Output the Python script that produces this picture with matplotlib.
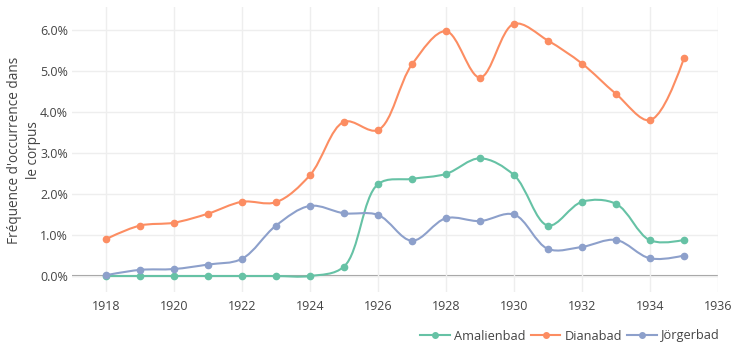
import matplotlib
matplotlib.use("Agg")
import matplotlib.pyplot as plt
import numpy as np
from matplotlib.path import Path
from matplotlib.patches import PathPatch
from matplotlib.lines import Line2D
from matplotlib.ticker import FuncFormatter, MultipleLocator

years = list(range(1918, 1936))
amalienbad = [0.00, 0.00, 0.00, 0.00, 0.00, 0.00, 0.00, 0.23, 2.24, 2.37,
              2.49, 2.87, 2.46, 1.23, 1.81, 1.76, 0.87, 0.88]
dianabad = [0.90, 1.23, 1.30, 1.52, 1.81, 1.80, 2.46, 3.76, 3.56, 5.16,
            5.97, 4.84, 6.15, 5.74, 5.18, 4.44, 3.80, 5.31]
joergerbad = [0.02, 0.15, 0.17, 0.28, 0.42, 1.23, 1.71, 1.53, 1.49, 0.86,
              1.41, 1.34, 1.50, 0.66, 0.71, 0.88, 0.43, 0.50]
series_names = ["Amalienbad", "Dianabad", "Jörgerbad"]
series_values = [amalienbad, dianabad, joergerbad]
colors = ["#66c2a5", "#fc8d62", "#8da0cb"]
x_ticks = list(range(1918, 1937, 2))
y_label = "Fréquence d'occurrence dans\nle corpus"

FONT = ["Open Sans", "DejaVu Sans"]
TEXT = "#444444"
plt.rcParams["font.family"] = FONT

W, H = 738, 347
fig = plt.figure(figsize=(W / 100, H / 100), dpi=100)
L, R, T, B = 72, 718, 7, 292
ax = fig.add_axes([L / W, (H - B) / H, (R - L) / W, (B - T) / H])
ax.set_xlim(1917, 1936)
ax.set_ylim(-0.39, 6.56)

for s in ax.spines.values():
    s.set_visible(False)
ax.set_facecolor("white")
ax.set_xticks(x_ticks)
ax.yaxis.set_major_locator(MultipleLocator(1))
ax.yaxis.set_major_formatter(FuncFormatter(lambda v, p: f"{v:.1f}%"))
ax.grid(True, color="#eeeeee", linewidth=1.0, zorder=0)
ax.tick_params(length=0, labelsize=9, labelcolor=TEXT, pad=3)
ax.tick_params(axis="x", pad=6)
ax.axhline(0, color="#999999", linewidth=1.5, zorder=1)


def smooth_path(xd, yd, smoothness=1.0):
    """Cardinal (centripetal Catmull-Rom style) spline through points, built in pixel space."""
    pts = ax.transData.transform(np.column_stack([xd, yd]))
    n = len(pts)
    tangents = []
    for i in range(1, n - 1):
        p0, p1, p2 = pts[i - 1], pts[i], pts[i + 1]
        d1 = p0 - p1
        d2 = p2 - p1
        d1a = np.hypot(*d1) ** 0.5
        d2a = np.hypot(*d2) ** 0.5
        num = (d2a * d2a * d1 - d1a * d1a * d2) * smoothness
        den1 = 3 * d2a * (d1a + d2a)
        den2 = 3 * d1a * (d1a + d2a)
        a = p1 + (num / den1 if den1 else 0)
        b = p1 - (num / den2 if den2 else 0)
        tangents.append((a, b))
    verts = [pts[0]]
    codes = [Path.MOVETO]
    verts += [tangents[0][0], pts[1]]
    codes += [Path.CURVE3, Path.CURVE3]
    for i in range(2, n - 1):
        verts += [tangents[i - 2][1], tangents[i - 1][0], pts[i]]
        codes += [Path.CURVE4] * 3
    verts += [tangents[n - 3][1], pts[n - 1]]
    codes += [Path.CURVE3, Path.CURVE3]
    data_verts = ax.transData.inverted().transform(np.array(verts))
    return Path(data_verts, codes)


handles = []
for name, vals, col in zip(series_names, series_values, colors):
    path = smooth_path(years, vals)
    ax.add_patch(PathPatch(path, facecolor="none", edgecolor=col,
                           linewidth=1.5, zorder=3, capstyle="round",
                           joinstyle="round"))
    ax.plot(years, vals, linestyle="none", marker="o", markersize=4.5,
            color=col, zorder=4)
    handles.append(Line2D([], [], color=col, linewidth=1.5, marker="o",
                          markersize=4, label=name))

fig.text(24 / W, 1 - 150 / H, y_label, rotation=90, ha="center", va="center",
         multialignment="center", fontsize=9.8, color=TEXT, linespacing=1.3)

leg = fig.legend(handles=handles, ncol=3, frameon=False, loc="center right",
                 bbox_to_anchor=(720 / W, 1 - 336 / H), fontsize=9.2,
                 handlelength=2.3, handletextpad=0.35, columnspacing=0.4,
                 borderaxespad=0, borderpad=0)
for t in leg.get_texts():
    t.set_color(TEXT)

fig.savefig("out.png", dpi=100, facecolor="white")
